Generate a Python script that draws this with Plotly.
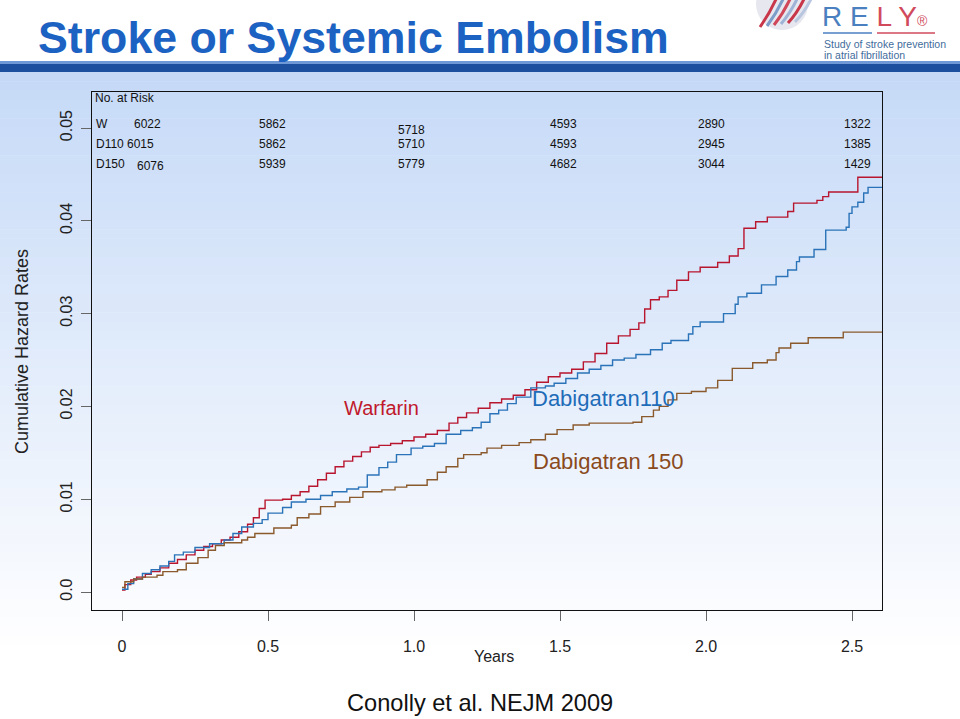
import plotly.graph_objects as go

# ---------------- data ----------------
warfarin_t = [0, 0.01, 0.03, 0.05, 0.08, 0.10, 0.13, 0.16, 0.19, 0.22, 0.25, 0.28, 0.31, 0.34, 0.37,
              0.40, 0.43, 0.45, 0.47, 0.49, 0.55, 0.58, 0.61, 0.64, 0.67, 0.70, 0.73, 0.76, 0.79,
              0.82, 0.85, 0.88, 0.92, 0.96, 1.00, 1.04, 1.08, 1.12, 1.15, 1.18, 1.22, 1.26, 1.30,
              1.34, 1.38, 1.42, 1.46, 1.50, 1.54, 1.58, 1.62, 1.66, 1.70, 1.74, 1.77, 1.79, 1.81,
              1.84, 1.87, 1.90, 1.94, 1.98, 2.04, 2.08, 2.11, 2.13, 2.17, 2.21, 2.28, 2.30, 2.38,
              2.40, 2.42, 2.52, 2.61]
warfarin_v = [0.0002, 0.0008, 0.0013, 0.0016, 0.0019, 0.0022, 0.0026, 0.0031, 0.0035, 0.0040, 0.0045,
              0.0049, 0.0052, 0.0056, 0.0059, 0.0065, 0.0073, 0.0080, 0.0090, 0.0099, 0.0100, 0.0104,
              0.0108, 0.0114, 0.0121, 0.0128, 0.0135, 0.0141, 0.0146, 0.0151, 0.0156, 0.0158, 0.0160,
              0.0163, 0.0167, 0.0170, 0.0174, 0.0182, 0.0188, 0.0193, 0.0198, 0.0204, 0.0208, 0.0212,
              0.0218, 0.0226, 0.0232, 0.0236, 0.0240, 0.0248, 0.0257, 0.0268, 0.0276, 0.0283, 0.0290,
              0.0305, 0.0315, 0.0318, 0.0325, 0.0336, 0.0345, 0.0350, 0.0355, 0.0362, 0.0370, 0.0392,
              0.0399, 0.0404, 0.0410, 0.0419, 0.0422, 0.0426, 0.0431, 0.0447, 0.0447]

dabi110_t = [0, 0.02, 0.04, 0.07, 0.10, 0.13, 0.16, 0.18, 0.21, 0.25, 0.30, 0.35, 0.38, 0.41, 0.45,
             0.48, 0.50, 0.55, 0.58, 0.63, 0.68, 0.72, 0.77, 0.81, 0.84, 0.88, 0.91, 0.94, 0.99, 1.03,
             1.07, 1.11, 1.16, 1.20, 1.23, 1.26, 1.29, 1.32, 1.35, 1.40, 1.45, 1.48, 1.52, 1.56, 1.60,
             1.64, 1.68, 1.72, 1.76, 1.81, 1.85, 1.88, 1.94, 1.955, 1.98, 2.06, 2.10, 2.11, 2.14, 2.19,
             2.24, 2.28, 2.31, 2.32, 2.37, 2.41, 2.48, 2.49, 2.50, 2.52, 2.54, 2.555, 2.61]
dabi110_v = [0.0003, 0.0009, 0.0014, 0.0020, 0.0024, 0.0028, 0.0033, 0.0040, 0.0043, 0.0048, 0.0052,
             0.0056, 0.0063, 0.0070, 0.0074, 0.0078, 0.0085, 0.0091, 0.0097, 0.0100, 0.0104, 0.0108,
             0.0111, 0.0113, 0.0126, 0.0134, 0.0140, 0.0148, 0.0155, 0.0157, 0.0160, 0.0170, 0.0174,
             0.0177, 0.0183, 0.0192, 0.0196, 0.0203, 0.0210, 0.0220, 0.0222, 0.0225, 0.0230, 0.0236,
             0.0240, 0.0244, 0.0250, 0.0252, 0.0256, 0.0261, 0.0268, 0.0271, 0.0278, 0.0286, 0.0291,
             0.0300, 0.0310, 0.0318, 0.0322, 0.0331, 0.0340, 0.0347, 0.0356, 0.0361, 0.0369, 0.0390,
             0.0393, 0.0408, 0.0415, 0.0420, 0.0430, 0.0436, 0.0436]

dabi150_t = [0, 0.01, 0.04, 0.07, 0.12, 0.14, 0.19, 0.22, 0.26, 0.295, 0.32, 0.35, 0.41, 0.43, 0.455,
             0.52, 0.58, 0.60, 0.64, 0.68, 0.73, 0.78, 0.825, 0.89, 0.935, 0.975, 1.045, 1.08, 1.11,
             1.15, 1.17, 1.23, 1.25, 1.30, 1.36, 1.40, 1.45, 1.49, 1.545, 1.60, 1.75, 1.78, 1.82, 1.84,
             1.87, 1.90, 1.95, 2.00, 2.04, 2.09, 2.16, 2.21, 2.24, 2.25, 2.29, 2.35, 2.47, 2.61]
dabi150_v = [0.0005, 0.0011, 0.0014, 0.0016, 0.0018, 0.0022, 0.0024, 0.0031, 0.0037, 0.0045, 0.0050,
             0.0053, 0.0056, 0.0059, 0.0063, 0.0069, 0.0072, 0.0080, 0.0084, 0.0092, 0.0097, 0.0102,
             0.0108, 0.0110, 0.0113, 0.0115, 0.0121, 0.0129, 0.0135, 0.0144, 0.0148, 0.0150, 0.0155,
             0.0158, 0.0161, 0.0164, 0.0170, 0.0175, 0.0180, 0.0182, 0.0183, 0.0189, 0.0196, 0.0200,
             0.0207, 0.0214, 0.0216, 0.0220, 0.0228, 0.0241, 0.0247, 0.0250, 0.0258, 0.0263, 0.0268,
             0.0274, 0.0280, 0.0280]

risk_times = [0, 0.5, 1.0, 1.5, 2.0, 2.5]
risk_groups = ["W", "D110", "D150"]
risk_W = [6022, 5862, 5718, 4593, 2890, 1322]
risk_D110 = [6015, 5862, 5710, 4593, 2945, 1385]
risk_D150 = [6076, 5939, 5779, 4682, 3044, 1429]

x_tickvals = [0, 0.5, 1.0, 1.5, 2.0, 2.5]
x_ticktext = ["0", "0.5", "1.0", "1.5", "2.0", "2.5"]
y_tickvals = [0, 0.01, 0.02, 0.03, 0.04, 0.05]
y_ticktext = ["0.0", "0.01", "0.02", "0.03", "0.04", "0.05"]

# ---------------- layout helpers ----------------
W, H = 960, 719
L, R, T, B = 92, 882, 92, 610


def px(x):
    return (x - L) / (R - L)


def py(y):
    return (B - y) / (B - T)


FONT = "Liberation Sans, Arial, sans-serif"
RED = "#b8152e"
BLUE = "#2a73b8"
BROWN = "#8a5a2c"

fig = go.Figure()
fig.add_trace(go.Scatter(x=warfarin_t, y=warfarin_v, mode="lines", line=dict(color=RED, width=1.4, shape="hv"),
                         name="Warfarin", hoverinfo="skip"))
fig.add_trace(go.Scatter(x=dabi110_t, y=dabi110_v, mode="lines", line=dict(color=BLUE, width=1.4, shape="hv"),
                         name="Dabigatran110", hoverinfo="skip"))
fig.add_trace(go.Scatter(x=dabi150_t, y=dabi150_v, mode="lines", line=dict(color=BROWN, width=1.4, shape="hv"),
                         name="Dabigatran 150", hoverinfo="skip"))

shapes = []
# gradient background of the slide
y_start, y_end = 72, 719
top_c = (197, 217, 247)
bot_c = (255, 255, 255)
n = 70
for i in range(n):
    y0 = y_start + (y_end - y_start) * i / n
    y1 = y_start + (y_end - y_start) * (i + 1) / n + 0.5
    f = min(1.0, (i + 0.5) / n / 0.9)
    c = tuple(int(round(top_c[k] + (bot_c[k] - top_c[k]) * f)) for k in range(3))
    shapes.append(dict(type="rect", xref="paper", yref="paper", x0=px(0), x1=px(W), y0=py(y1), y1=py(y0),
                       fillcolor="rgb(%d,%d,%d)" % c, line=dict(width=0), layer="below"))
# blue band under the title
shapes.append(dict(type="rect", xref="paper", yref="paper", x0=px(0), x1=px(W), y0=py(64), y1=py(61),
                   fillcolor="#6f98d6", line=dict(width=0), layer="below"))
shapes.append(dict(type="rect", xref="paper", yref="paper", x0=px(0), x1=px(W), y0=py(72), y1=py(64),
                   fillcolor="#1d4f9f", line=dict(width=0), layer="below"))
# logo: sphere
shapes.append(dict(type="circle", xref="paper", yref="paper", x0=px(756), x1=px(808), y0=py(30), y1=py(-22),
                   fillcolor="#e6e7ef", line=dict(width=0), layer="below"))
for k, col in enumerate(["#c8364a", "#7d9cc8", "#d0475a", "#9fb3d6", "#c8364a", "#b9c6e0"]):
    x0 = 760 + k * 7
    shapes.append(dict(type="path", xref="paper", yref="paper",
                       path="M %f %f Q %f %f %f %f" % (px(x0), py(27 - k), px(x0 + 12), py(10), px(x0 + 20), py(-10)),
                       line=dict(color=col, width=3), layer="below"))
# logo underline
shapes.append(dict(type="line", xref="paper", yref="paper", x0=px(823), x1=px(872), y0=py(33), y1=py(33),
                   line=dict(color="#4a7fc0", width=1.5)))
shapes.append(dict(type="line", xref="paper", yref="paper", x0=px(877), x1=px(935), y0=py(33), y1=py(33),
                   line=dict(color="#d04a5c", width=1.5)))

annotations = []
# title
annotations.append(dict(text="<b>Stroke or Systemic Embolism</b>", x=px(36), y=py(38), xref="paper", yref="paper",
                        xanchor="left", yanchor="middle", showarrow=False,
                        font=dict(family=FONT, size=44.7, color="#1c62c2")))
# logo texts
annotations.append(dict(text="<span style='color:#4a7fc0'>R E </span><span style='color:#d04a5c'>L Y</span>"
                             "<span style='color:#d04a5c;font-size:14px'>®</span>",
                        x=px(820), y=py(16), xref="paper", yref="paper", xanchor="left", yanchor="middle",
                        showarrow=False, font=dict(family=FONT, size=28)))
annotations.append(dict(text="Study of stroke prevention", x=px(822), y=py(44), xref="paper", yref="paper",
                        xanchor="left", yanchor="middle", showarrow=False,
                        font=dict(family=FONT, size=10.5, color="#3f6c9c")))
annotations.append(dict(text="in atrial fibrillation", x=px(822), y=py(55), xref="paper", yref="paper",
                        xanchor="left", yanchor="middle", showarrow=False,
                        font=dict(family=FONT, size=10.5, color="#3f6c9c")))
# axis titles
annotations.append(dict(text="Cumulative Hazard Rates", x=px(22), y=py(352), xref="paper", yref="paper",
                        textangle=-90, xanchor="center", yanchor="middle", showarrow=False,
                        font=dict(family=FONT, size=18, color="#222")))
annotations.append(dict(text="Years", x=px(494), y=py(656), xref="paper", yref="paper",
                        xanchor="center", yanchor="middle", showarrow=False,
                        font=dict(family=FONT, size=16, color="#222")))
# citation
annotations.append(dict(text="Conolly et al. NEJM 2009", x=px(480), y=py(703), xref="paper", yref="paper",
                        xanchor="center", yanchor="middle", showarrow=False,
                        font=dict(family=FONT, size=23.6, color="#111")))
# curve labels
annotations.append(dict(text="Warfarin", x=0.89, y=0.0198, xref="x", yref="y", showarrow=False,
                        font=dict(family=FONT, size=20, color="#c0192c")))
annotations.append(dict(text="Dabigatran110", x=1.650, y=0.0208, xref="x", yref="y", showarrow=False,
                        font=dict(family=FONT, size=22, color="#1f6cb8")))
annotations.append(dict(text="Dabigatran 150", x=1.665, y=0.0141, xref="x", yref="y", showarrow=False,
                        font=dict(family=FONT, size=22, color="#8a4a1c")))
# number at risk table
annotations.append(dict(text="No. at Risk", x=px(93), y=py(98), xref="paper", yref="paper",
                        xanchor="left", yanchor="middle", showarrow=False,
                        font=dict(family=FONT, size=12, color="#111")))
row_y = [124, 144, 164]
col_shift = [0, 4, -3, 3, 5, 5]
first_col_shift = [25, 18, 28]
cell_dy = {(0, 2): 6, (2, 0): 2}
rows = [risk_W, risk_D110, risk_D150]
for r, (grp, vals) in enumerate(zip(risk_groups, rows)):
    annotations.append(dict(text=grp, x=px(94), y=py(row_y[r]), xref="paper", yref="paper",
                            xanchor="left", yanchor="middle", showarrow=False,
                            font=dict(family=FONT, size=12, color="#111")))
    for c, (t, v) in enumerate(zip(risk_times, vals)):
        shift = first_col_shift[r] if c == 0 else col_shift[c]
        annotations.append(dict(text=str(v), x=t, y=py(row_y[r] + cell_dy.get((r, c), 0)), xref="x", yref="paper",
                                xanchor="center", yanchor="middle", xshift=shift, showarrow=False,
                                font=dict(family=FONT, size=12, color="#111")))

fig.update_layout(
    width=W, height=H,
    margin=dict(l=L, r=W - R, t=T, b=H - B, pad=0),
    paper_bgcolor="white",
    plot_bgcolor="rgba(0,0,0,0)",
    showlegend=False,
    shapes=shapes,
    annotations=annotations,
    xaxis=dict(range=[-30 / 292, 760 / 292], tickvals=x_tickvals, ticktext=x_ticktext,
               showgrid=False, zeroline=False, showline=True, mirror=True, linecolor="#111", linewidth=1,
               ticks="outside", ticklen=10, tickcolor="#666", tickwidth=1, ticklabelstandoff=12,
               tickfont=dict(family=FONT, size=16, color="#222")),
    yaxis=dict(range=[-18 / 9280, 500 / 9280], tickvals=y_tickvals, ticktext=y_ticktext,
               showgrid=False, zeroline=False, showline=True, mirror=True, linecolor="#111", linewidth=1,
               ticks="outside", ticklen=10, tickcolor="#666", tickwidth=1, tickangle=-90, ticklabelstandoff=3,
               tickfont=dict(family=FONT, size=16, color="#222")),
)

fig.write_html("out.html", config={"displayModeBar": False})

# remove the default page margin so the figure sits at the window's top-left corner
with open("out.html", "r", encoding="utf-8") as fh:
    html = fh.read()
html = html.replace("<head>", "<head><style>html,body{margin:0;padding:0;overflow:hidden;}</style>", 1)
with open("out.html", "w", encoding="utf-8") as fh:
    fh.write(html)
